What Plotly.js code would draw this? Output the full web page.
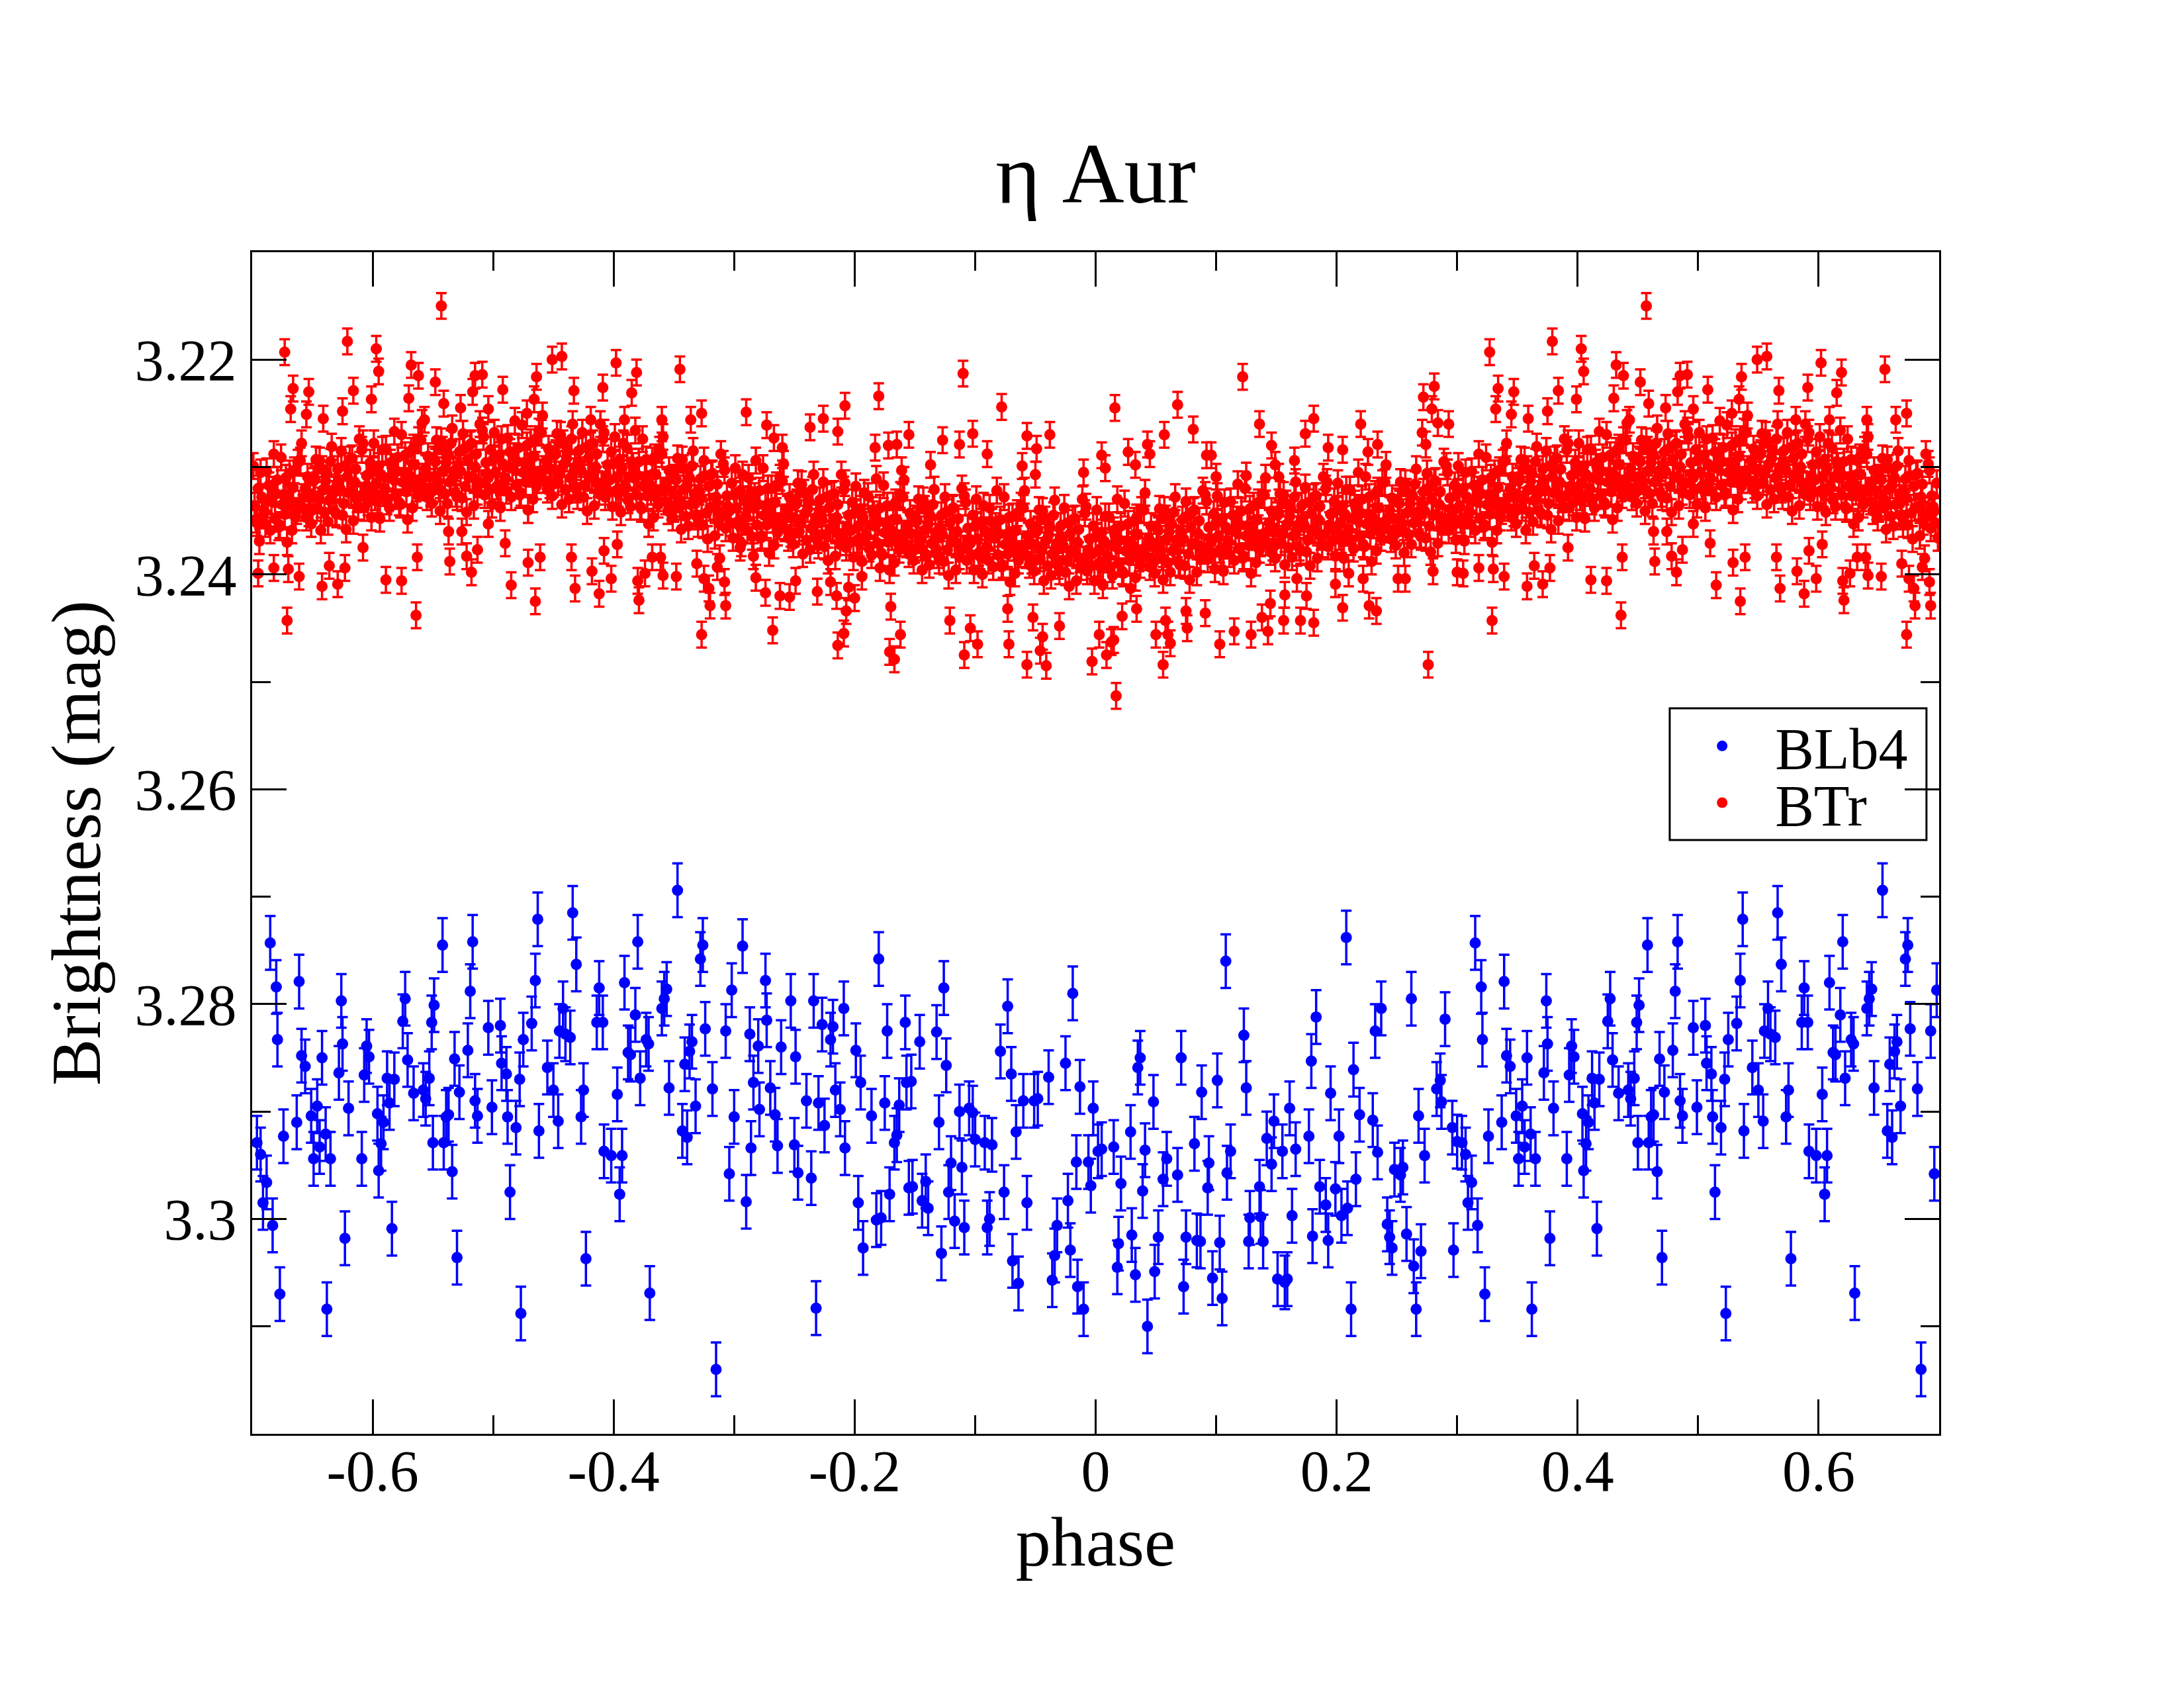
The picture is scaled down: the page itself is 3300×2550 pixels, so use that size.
<!DOCTYPE html>
<html>
<head>
<meta charset="utf-8">
<script src="https://cdn.plot.ly/plotly-3.0.1.min.js"></script>
<style>body{margin:0;background:#fff}</style>
</head>
<body>
<div id="chart"></div>
<script>
// BLb4 points, phase in [-0.5, 0.5)
var bluePhase = [
  -0.494,-0.493,-0.489,-0.488,-0.486,-0.481,-0.478,-0.477,-0.475,-0.468,
  -0.465,-0.463,-0.462,-0.455,-0.450,-0.446,-0.445,-0.442,-0.440,-0.436,
  -0.434,-0.431,-0.427,-0.425,-0.423,-0.414,-0.412,-0.409,-0.408,-0.402,
  -0.397,-0.395,-0.393,-0.391,-0.388,-0.386,-0.382,-0.380,-0.378,-0.373,
  -0.371,-0.370,-0.360,-0.358,-0.356,-0.354,-0.347,-0.343,-0.341,-0.339,
  -0.337,-0.335,-0.332,-0.328,-0.326,-0.324,-0.318,-0.315,-0.307,-0.304,
  -0.302,-0.300,-0.293,-0.290,-0.287,-0.286,-0.284,-0.280,-0.279,-0.274,
  -0.273,-0.270,-0.266,-0.264,-0.261,-0.253,-0.250,-0.249,-0.247,-0.240,
  -0.236,-0.234,-0.232,-0.230,-0.227,-0.225,-0.220,-0.218,-0.216,-0.212,
  -0.209,-0.208,-0.199,-0.197,-0.195,-0.193,-0.186,-0.182,-0.180,-0.178,
  -0.175,-0.173,-0.171,-0.167,-0.165,-0.163,-0.158,-0.157,-0.155,
  -0.153,-0.152,-0.146,-0.144,-0.141,-0.139,-0.132,-0.130,-0.128,-0.126,
  -0.124,-0.122,-0.120,-0.117,-0.113,-0.111,-0.109,-0.105,-0.102,-0.100,
  -0.092,-0.090,-0.088,-0.086,-0.079,-0.076,-0.073,-0.070,-0.069,-0.066,
  -0.064,-0.060,-0.057,-0.051,-0.048,-0.039,-0.036,-0.034,-0.032,-0.025,
  -0.023,-0.021,-0.019,-0.016,-0.015,-0.013,-0.010,-0.006,-0.004,-0.002,
  0.002,0.005,0.015,0.018,0.019,0.021,0.029,0.030,0.033,0.035,
  0.037,0.039,0.041,0.043,0.048,0.049,0.052,0.056,0.059,0.068,
  0.071,0.073,0.075,0.082,0.084,0.087,0.088,0.093,0.094,0.097,
  0.101,0.103,0.105,0.108,0.109,0.112,0.123,0.125,0.127,0.128,
  0.136,0.137,0.139,0.142,0.146,0.148,0.151,0.155,0.157,0.159,
  0.161,0.163,0.166,0.177,0.179,0.180,0.183,0.186,
  0.191,0.193,0.195,0.199,0.202,0.204,0.208,0.209,0.212,0.214,
  0.216,0.219,0.230,0.232,0.234,0.237,0.242,0.244,0.246,0.248,
  0.253,0.255,0.258,0.262,0.264,0.266,0.268,0.270,0.273,0.283,
  0.286,0.287,0.290,0.296,0.297,0.300,0.304,0.307,0.309,0.312,
  0.315,0.317,0.320,0.321,0.323,0.326,0.337,0.339,0.341,0.344,
  0.349,0.351,0.354,0.356,0.358,0.361,0.362,0.365,0.372,0.374,
  0.375,0.377,0.380,0.391,0.393,0.395,0.397,0.404,0.405,0.407,
  0.409,0.412,0.414,0.416,0.418,0.425,0.427,0.429,0.434,0.442,
  0.444,0.447,0.449,0.450,0.451,0.458,0.459,0.461,0.463,0.466,
  0.468,0.470,0.472,0.479,0.481,0.483,0.485,0.487,0.496,0.499
];
var blueMag = [
  3.2820,3.2855,3.2865,3.2905,3.2975,3.2915,3.2870,3.3088,3.2833,3.2818,
  3.2778,3.2721,3.2918,3.2859,3.2880,3.2909,3.2825,3.2804,3.2828,3.2831,
  3.2715,3.2763,3.2905,3.2880,3.3037,3.2817,3.2785,3.2817,3.2937,3.2941,
  3.2884,3.2977,3.2941,3.2780,3.2845,3.2847,3.2810,3.2742,3.2869,3.2833,
  3.2837,3.3069,3.2804,3.2795,3.2786,3.2878,3.2694,3.2918,3.2856,3.2924,
  3.2844,3.2835,3.2895,3.2758,3.2745,3.2823,3.2879,3.3140,3.2825,3.2958,
  3.2787,3.2905,3.2746,3.2984,3.2828,3.2934,3.2873,3.2839,3.2898,3.2778,
  3.2815,3.2878,3.2903,3.2932,3.2840,3.2797,3.2931,3.2849,3.2957,3.2890,
  3.2962,3.2797,3.3083,3.2892,3.2819,3.2913,3.2833,3.2821,3.2880,3.2898,
  3.2804,3.2934,3.2843,3.2985,3.2873,3.3027,3.2904,3.3001,3.2758,3.2999,
  3.2892,3.2825,3.2977,3.2929,3.2922,3.2894,3.2817,3.2873,3.2971,
  3.2872,3.2970,3.2835,3.2983,3.2965,3.2990,3.2826,3.2910,3.3032,3.2785,
  3.2857,3.2975,3.2948,3.3002,3.2900,3.2952,3.3008,3.2897,3.2901,3.2926,
  3.2929,3.3008,3.3000,3.2931,3.2844,3.2975,3.2802,3.2865,3.3039,3.2919,
  3.3060,3.2890,3.2985,3.2890,3.2888,3.2868,3.3057,3.3034,3.3006,3.2855,
  3.2983,3.3029,3.2790,3.2947,3.3063,3.2877,3.3084,3.2947,3.2969,3.2897,
  3.2937,3.2935,3.2933,3.3045,3.3023,3.2967,3.2919,3.3015,3.3052,3.2859,
  3.2850,3.2974,3.2936,3.3100,3.2891,3.3049,3.3017,3.2963,3.2944,3.2959,
  3.2850,3.3063,3.3017,3.2930,3.3020,3.3021,3.2882,3.2971,3.2948,3.3055,
  3.2871,3.3022,3.3074,3.2760,3.2957,3.2937,3.2829,3.2878,3.3021,3.2999,
  3.2970,3.2998,3.3021,3.2925,3.2949,3.2909,3.3056,3.2937,3.3059,3.3056,
  3.2897,3.2997,3.2935,3.2923,3.2853,3.3016,3.2812,3.2970,
  3.2987,3.3020,3.2883,3.2972,3.2923,3.2997,3.2738,3.2990,3.3084,3.2861,
  3.2963,3.2903,3.2908,3.2825,3.2938,3.2804,3.3005,3.3017,3.3027,3.2954,
  3.2959,3.2952,3.3014,3.2795,3.3044,3.3084,3.2904,3.3030,3.2941,3.2879,
  3.2871,3.2891,3.2814,3.2915,3.3029,3.2928,3.2929,3.2940,3.2985,3.2966,
  3.2743,3.3006,3.2784,3.2833,3.3070,3.2923,3.2910,3.2779,3.2848,3.2858,
  3.2904,3.2944,3.2895,3.2933,3.2850,3.2921,3.3084,3.2944,3.2864,3.2797,
  3.2837,3.3018,3.2897,3.2944,3.2866,3.2839,3.2849,3.2902,3.2955,3.2930,
  3.2910,3.2869,3.2892,3.3009,3.2870,3.2816,3.2795,3.2852,3.2883,3.2880,
  3.2888,3.2869,3.2817,3.2929,3.2801,3.2745,3.2929,3.2905,3.2903,3.2956,
  3.2851,3.3036,3.2882,3.2843,3.2788,3.2742,3.2890,3.2904,3.2822,3.2896
];

// BTr points, dense band (read per 0.01 of phase)
var redPhase = [
  -0.499,-0.498,-0.496,-0.495,-0.494,-0.492,-0.491,
  -0.490,-0.488,-0.487,-0.485,-0.483,-0.482,-0.481,
  -0.479,-0.477,-0.476,-0.475,-0.474,-0.473,-0.471,
  -0.470,-0.469,-0.467,-0.466,-0.464,-0.462,-0.461,
  -0.459,-0.458,-0.456,-0.455,-0.454,-0.452,-0.451,
  -0.450,-0.448,-0.447,-0.445,-0.443,-0.442,-0.441,
  -0.439,-0.437,-0.436,-0.435,-0.434,-0.433,-0.431,
  -0.430,-0.429,-0.427,-0.426,-0.424,-0.422,-0.421,
  -0.419,-0.418,-0.416,-0.415,-0.414,-0.412,-0.411,
  -0.410,-0.408,-0.407,-0.405,-0.403,-0.402,-0.401,
  -0.399,-0.397,-0.396,-0.395,-0.394,-0.393,-0.391,
  -0.390,-0.389,-0.387,-0.386,-0.384,-0.382,-0.381,
  -0.379,-0.378,-0.376,-0.375,-0.374,-0.372,-0.371,
  -0.370,-0.368,-0.367,-0.365,-0.363,-0.362,-0.361,
  -0.359,-0.357,-0.356,-0.355,-0.354,-0.353,-0.351,
  -0.350,-0.349,-0.347,-0.346,-0.344,-0.342,-0.341,
  -0.339,-0.338,-0.336,-0.335,-0.334,-0.332,-0.331,
  -0.330,-0.328,-0.327,-0.325,-0.323,-0.322,-0.321,
  -0.319,-0.317,-0.316,-0.315,-0.314,-0.313,-0.311,
  -0.310,-0.309,-0.307,-0.306,-0.304,-0.302,-0.301,
  -0.299,-0.298,-0.296,-0.295,-0.294,-0.292,-0.291,
  -0.290,-0.288,-0.287,-0.285,-0.283,-0.282,-0.281,
  -0.279,-0.277,-0.276,-0.275,-0.274,-0.273,-0.271,
  -0.270,-0.269,-0.267,-0.266,-0.264,-0.262,-0.261,
  -0.259,-0.258,-0.256,-0.255,-0.254,-0.252,-0.251,
  -0.250,-0.248,-0.247,-0.245,-0.243,-0.242,-0.241,
  -0.239,-0.237,-0.236,-0.235,-0.234,-0.233,-0.231,
  -0.230,-0.229,-0.227,-0.226,-0.224,-0.222,-0.221,
  -0.219,-0.218,-0.216,-0.215,-0.214,-0.212,-0.211,
  -0.210,-0.208,-0.207,-0.205,-0.203,-0.202,-0.201,
  -0.199,-0.197,-0.196,-0.195,-0.194,-0.193,-0.191,
  -0.190,-0.189,-0.187,-0.186,-0.184,-0.182,-0.181,
  -0.179,-0.178,-0.176,-0.175,-0.174,-0.172,-0.171,
  -0.170,-0.168,-0.167,-0.165,-0.163,-0.162,-0.161,
  -0.159,-0.157,-0.156,-0.155,-0.154,-0.153,-0.151,
  -0.150,-0.149,-0.147,-0.146,-0.144,-0.142,-0.141,
  -0.139,-0.138,-0.136,-0.135,-0.134,-0.132,-0.131,
  -0.130,-0.128,-0.127,-0.125,-0.123,-0.122,-0.121,
  -0.119,-0.117,-0.116,-0.115,-0.114,-0.113,-0.111,
  -0.110,-0.109,-0.107,-0.106,-0.104,-0.102,-0.101,
  -0.099,-0.098,-0.096,-0.095,-0.094,-0.092,-0.091,
  -0.090,-0.088,-0.087,-0.085,-0.083,-0.082,-0.081,
  -0.079,-0.077,-0.076,-0.075,-0.074,-0.073,-0.071,
  -0.070,-0.069,-0.067,-0.066,-0.064,-0.062,-0.061,
  -0.059,-0.058,-0.056,-0.055,-0.054,-0.052,-0.051,
  -0.050,-0.048,-0.047,-0.045,-0.043,-0.042,-0.041,
  -0.039,-0.037,-0.036,-0.035,-0.034,-0.033,-0.031,
  -0.030,-0.029,-0.027,-0.026,-0.024,-0.022,-0.021,
  -0.019,-0.018,-0.016,-0.015,-0.014,-0.012,-0.011,
  -0.010,-0.008,-0.007,-0.005,-0.003,-0.002,-0.001,
  0.001,0.003,0.004,0.005,0.006,0.007,0.009,
  0.010,0.011,0.013,0.014,0.016,0.018,0.019,
  0.021,0.022,0.024,0.025,0.026,0.028,0.029,
  0.030,0.032,0.033,0.035,0.037,0.038,0.039,
  0.041,0.043,0.044,0.045,0.046,0.047,0.049,
  0.050,0.051,0.053,0.054,0.056,0.058,0.059,
  0.061,0.062,0.064,0.065,0.066,0.068,0.069,
  0.070,0.072,0.073,0.075,0.077,0.078,0.079,
  0.081,0.083,0.084,0.085,0.086,0.087,0.089,
  0.090,0.091,0.093,0.094,0.096,0.098,0.099,
  0.101,0.102,0.104,0.105,0.106,0.108,0.109,
  0.110,0.112,0.113,0.115,0.117,0.118,0.119,
  0.121,0.123,0.124,0.125,0.126,0.127,0.129,
  0.130,0.131,0.133,0.134,0.136,0.138,0.139,
  0.141,0.142,0.144,0.145,0.146,0.148,0.149,
  0.150,0.152,0.153,0.155,0.157,0.158,0.159,
  0.161,0.163,0.164,0.165,0.166,0.167,0.169,
  0.170,0.171,0.173,0.174,0.176,0.178,0.179,
  0.181,0.182,0.184,0.185,0.186,0.188,0.189,
  0.190,0.192,0.193,0.195,0.197,0.198,0.199,
  0.201,0.203,0.204,0.205,0.206,0.207,0.209,
  0.210,0.211,0.213,0.214,0.216,0.218,0.219,
  0.221,0.222,0.224,0.225,0.226,0.228,0.229,
  0.230,0.232,0.233,0.235,0.237,0.238,0.239,
  0.241,0.243,0.244,0.245,0.246,0.247,0.249,
  0.250,0.251,0.253,0.254,0.256,0.258,0.259,
  0.261,0.262,0.264,0.265,0.266,0.268,0.269,
  0.270,0.272,0.273,0.275,0.277,0.278,0.279,
  0.281,0.283,0.284,0.285,0.286,0.287,0.289,
  0.290,0.291,0.293,0.294,0.296,0.298,0.299,
  0.301,0.302,0.304,0.305,0.306,0.308,0.309,
  0.310,0.312,0.313,0.315,0.317,0.318,0.319,
  0.321,0.323,0.324,0.325,0.326,0.327,0.329,
  0.330,0.331,0.333,0.334,0.336,0.338,0.339,
  0.341,0.342,0.344,0.345,0.346,0.348,0.349,
  0.350,0.352,0.353,0.355,0.357,0.358,0.359,
  0.361,0.363,0.364,0.365,0.366,0.367,0.369,
  0.370,0.371,0.373,0.374,0.376,0.378,0.379,
  0.381,0.382,0.384,0.385,0.386,0.388,0.389,
  0.390,0.392,0.393,0.395,0.397,0.398,0.399,
  0.401,0.403,0.404,0.405,0.406,0.407,0.409,
  0.410,0.411,0.413,0.414,0.416,0.418,0.419,
  0.421,0.422,0.424,0.425,0.426,0.428,0.429,
  0.430,0.432,0.433,0.435,0.437,0.438,0.439,
  0.441,0.443,0.444,0.445,0.446,0.447,0.449,
  0.450,0.451,0.453,0.454,0.456,0.458,0.459,
  0.461,0.462,0.464,0.465,0.466,0.468,0.469,
  0.470,0.472,0.473,0.475,0.477,0.478,0.479,
  0.481,0.483,0.484,0.485,0.486,0.487,0.489,
  0.490,0.491,0.493,0.494,0.496,0.498,0.499
];
var redMag = [
  3.2268,3.2305,3.2321,3.2289,3.2338,3.2297,3.2314,
  3.2310,3.2273,3.2300,3.2328,3.2290,3.2257,3.2317,
  3.2282,3.2324,3.2261,3.2305,3.2296,3.2314,3.2340,
  3.2299,3.2277,3.2330,3.2290,3.2318,3.2267,3.2305,
  3.2252,3.2312,3.2294,3.2321,3.2283,3.2302,3.2327,
  3.2316,3.2287,3.2269,3.2307,3.2335,3.2278,3.2297,
  3.2292,3.2330,3.2310,3.2274,3.2260,3.2304,3.2321,
  3.2327,3.2285,3.2303,3.2268,3.2317,3.2341,3.2292,
  3.2279,3.2309,3.2336,3.2300,3.2288,3.2323,3.2260,
  3.2317,3.2268,3.2328,3.2298,3.2312,3.2286,3.2337,
  3.2272,3.2309,3.2325,3.2293,3.2342,3.2301,3.2318,
  3.2319,3.2282,3.2309,3.2337,3.2299,3.2266,3.2326,
  3.2295,3.2337,3.2274,3.2318,3.2309,3.2327,3.2353,
  3.2316,3.2294,3.2347,3.2307,3.2335,3.2284,3.2322,
  3.2272,3.2332,3.2314,3.2341,3.2303,3.2322,3.2347,
  3.2339,3.2310,3.2292,3.2330,3.2358,3.2301,3.2320,
  3.2317,3.2355,3.2335,3.2299,3.2285,3.2329,3.2346,
  3.2353,3.2311,3.2329,3.2294,3.2343,3.2367,3.2318,
  3.2307,3.2337,3.2364,3.2328,3.2316,3.2351,3.2288,
  3.2346,3.2297,3.2357,3.2327,3.2341,3.2315,3.2366,
  3.2301,3.2338,3.2354,3.2322,3.2371,3.2330,3.2347,
  3.2347,3.2310,3.2337,3.2365,3.2327,3.2294,3.2354,
  3.2322,3.2364,3.2301,3.2345,3.2336,3.2354,3.2380,
  3.2342,3.2320,3.2373,3.2333,3.2361,3.2310,3.2348,
  3.2297,3.2357,3.2339,3.2366,3.2328,3.2347,3.2372,
  3.2362,3.2333,3.2315,3.2353,3.2381,3.2324,3.2343,
  3.2339,3.2377,3.2357,3.2321,3.2307,3.2351,3.2368,
  3.2373,3.2331,3.2349,3.2314,3.2363,3.2387,3.2338,
  3.2326,3.2356,3.2383,3.2347,3.2335,3.2370,3.2307,
  3.2364,3.2315,3.2375,3.2345,3.2359,3.2333,3.2384,
  3.2318,3.2355,3.2371,3.2339,3.2388,3.2347,3.2364,
  3.2364,3.2327,3.2354,3.2382,3.2344,3.2311,3.2371,
  3.2338,3.2380,3.2317,3.2361,3.2352,3.2370,3.2396,
  3.2358,3.2336,3.2389,3.2349,3.2377,3.2326,3.2364,
  3.2312,3.2372,3.2354,3.2381,3.2343,3.2362,3.2387,
  3.2377,3.2348,3.2330,3.2368,3.2396,3.2339,3.2358,
  3.2353,3.2391,3.2371,3.2335,3.2321,3.2365,3.2382,
  3.2387,3.2345,3.2363,3.2328,3.2377,3.2401,3.2352,
  3.2339,3.2369,3.2396,3.2360,3.2348,3.2383,3.2320,
  3.2376,3.2327,3.2387,3.2357,3.2371,3.2345,3.2396,
  3.2330,3.2367,3.2383,3.2351,3.2400,3.2359,3.2376,
  3.2375,3.2338,3.2365,3.2393,3.2355,3.2322,3.2382,
  3.2349,3.2391,3.2328,3.2372,3.2363,3.2381,3.2407,
  3.2368,3.2346,3.2399,3.2359,3.2387,3.2336,3.2374,
  3.2322,3.2382,3.2364,3.2391,3.2353,3.2372,3.2397,
  3.2387,3.2358,3.2340,3.2378,3.2406,3.2349,3.2368,
  3.2363,3.2401,3.2381,3.2345,3.2331,3.2375,3.2392,
  3.2397,3.2355,3.2373,3.2338,3.2387,3.2411,3.2362,
  3.2349,3.2379,3.2406,3.2370,3.2358,3.2393,3.2330,
  3.2386,3.2337,3.2397,3.2367,3.2381,3.2355,3.2406,
  3.2340,3.2377,3.2393,3.2361,3.2410,3.2369,3.2386,
  3.2383,3.2346,3.2373,3.2401,3.2363,3.2330,3.2390,
  3.2355,3.2397,3.2334,3.2378,3.2369,3.2387,3.2413,
  3.2372,3.2350,3.2403,3.2363,3.2391,3.2340,3.2378,
  3.2324,3.2384,3.2366,3.2393,3.2355,3.2374,3.2399,
  3.2386,3.2357,3.2339,3.2377,3.2405,3.2348,3.2367,
  3.2360,3.2398,3.2378,3.2342,3.2328,3.2372,3.2389,
  3.2391,3.2349,3.2367,3.2332,3.2381,3.2405,3.2356,
  3.2341,3.2371,3.2398,3.2362,3.2350,3.2385,3.2322,
  3.2375,3.2326,3.2386,3.2356,3.2370,3.2344,3.2395,
  3.2327,3.2364,3.2380,3.2348,3.2397,3.2356,3.2373,
  3.2369,3.2332,3.2359,3.2387,3.2349,3.2316,3.2376,
  3.2341,3.2383,3.2320,3.2364,3.2355,3.2373,3.2399,
  3.2358,3.2336,3.2389,3.2349,3.2377,3.2326,3.2364,
  3.2310,3.2370,3.2352,3.2379,3.2341,3.2360,3.2385,
  3.2372,3.2343,3.2325,3.2363,3.2391,3.2334,3.2353,
  3.2346,3.2384,3.2364,3.2328,3.2314,3.2358,3.2375,
  3.2378,3.2336,3.2354,3.2319,3.2368,3.2392,3.2343,
  3.2328,3.2358,3.2385,3.2349,3.2337,3.2372,3.2309,
  3.2363,3.2314,3.2374,3.2344,3.2358,3.2332,3.2383,
  3.2315,3.2352,3.2368,3.2336,3.2385,3.2344,3.2361,
  3.2358,3.2321,3.2348,3.2376,3.2338,3.2305,3.2365,
  3.2330,3.2372,3.2309,3.2353,3.2344,3.2362,3.2388,
  3.2347,3.2325,3.2378,3.2338,3.2366,3.2315,3.2353,
  3.2298,3.2358,3.2340,3.2367,3.2329,3.2348,3.2373,
  3.2361,3.2332,3.2314,3.2352,3.2380,3.2323,3.2342,
  3.2334,3.2372,3.2352,3.2316,3.2302,3.2346,3.2363,
  3.2365,3.2323,3.2341,3.2306,3.2355,3.2379,3.2330,
  3.2314,3.2344,3.2371,3.2335,3.2323,3.2358,3.2295,
  3.2348,3.2299,3.2359,3.2329,3.2343,3.2317,3.2368,
  3.2299,3.2336,3.2352,3.2320,3.2369,3.2328,3.2345,
  3.2341,3.2304,3.2331,3.2359,3.2321,3.2288,3.2348,
  3.2312,3.2354,3.2291,3.2335,3.2326,3.2344,3.2370,
  3.2328,3.2306,3.2359,3.2319,3.2347,3.2296,3.2334,
  3.2278,3.2338,3.2320,3.2347,3.2309,3.2328,3.2353,
  3.2340,3.2311,3.2293,3.2331,3.2359,3.2302,3.2321,
  3.2313,3.2351,3.2331,3.2295,3.2281,3.2325,3.2342,
  3.2344,3.2302,3.2320,3.2285,3.2334,3.2358,3.2309,
  3.2293,3.2323,3.2350,3.2314,3.2302,3.2337,3.2274,
  3.2327,3.2278,3.2338,3.2308,3.2322,3.2296,3.2347,
  3.2278,3.2315,3.2331,3.2299,3.2348,3.2307,3.2324,
  3.2320,3.2283,3.2310,3.2338,3.2300,3.2267,3.2327,
  3.2291,3.2333,3.2270,3.2314,3.2305,3.2323,3.2349,
  3.2307,3.2285,3.2338,3.2298,3.2326,3.2275,3.2313,
  3.2259,3.2319,3.2301,3.2328,3.2290,3.2309,3.2334,
  3.2322,3.2293,3.2275,3.2313,3.2341,3.2284,3.2303,
  3.2296,3.2334,3.2314,3.2278,3.2264,3.2308,3.2325,
  3.2328,3.2286,3.2304,3.2269,3.2318,3.2342,3.2293,
  3.2279,3.2309,3.2336,3.2300,3.2288,3.2323,3.2260,
  3.2315,3.2266,3.2326,3.2296,3.2310,3.2284,3.2335
];

// more BTr points packed near the middle of the band
var redPhase2 = [
  -0.500,-0.497,-0.493, -0.489,-0.486,-0.484, -0.480,-0.478,-0.472, -0.468,-0.465,-0.463,
  -0.460,-0.457,-0.453, -0.449,-0.446,-0.444, -0.440,-0.438,-0.432, -0.428,-0.425,-0.423,
  -0.420,-0.417,-0.413, -0.409,-0.406,-0.404, -0.400,-0.398,-0.392, -0.388,-0.385,-0.383,
  -0.380,-0.377,-0.373, -0.369,-0.366,-0.364, -0.360,-0.358,-0.352, -0.348,-0.345,-0.343,
  -0.340,-0.337,-0.333, -0.329,-0.326,-0.324, -0.320,-0.318,-0.312, -0.308,-0.305,-0.303,
  -0.300,-0.297,-0.293, -0.289,-0.286,-0.284, -0.280,-0.278,-0.272, -0.268,-0.265,-0.263,
  -0.260,-0.257,-0.253, -0.249,-0.246,-0.244, -0.240,-0.238,-0.232, -0.228,-0.225,-0.223,
  -0.220,-0.217,-0.213, -0.209,-0.206,-0.204, -0.200,-0.198,-0.192, -0.188,-0.185,-0.183,
  -0.180,-0.177,-0.173, -0.169,-0.166,-0.164, -0.160,-0.158,-0.152, -0.148,-0.145,-0.143,
  -0.140,-0.137,-0.133, -0.129,-0.126,-0.124, -0.120,-0.118,-0.112, -0.108,-0.105,-0.103,
  -0.100,-0.097,-0.093, -0.089,-0.086,-0.084, -0.080,-0.078,-0.072, -0.068,-0.065,-0.063,
  -0.060,-0.057,-0.053, -0.049,-0.046,-0.044, -0.040,-0.038,-0.032, -0.028,-0.025,-0.023,
  -0.020,-0.017,-0.013, -0.009,-0.006,-0.004, 0.000,0.002,0.008, 0.012,0.015,0.017,
  0.020,0.023,0.027, 0.031,0.034,0.036, 0.040,0.042,0.048, 0.052,0.055,0.057,
  0.060,0.063,0.067, 0.071,0.074,0.076, 0.080,0.082,0.088, 0.092,0.095,0.097,
  0.100,0.103,0.107, 0.111,0.114,0.116, 0.120,0.122,0.128, 0.132,0.135,0.137,
  0.140,0.143,0.147, 0.151,0.154,0.156, 0.160,0.162,0.168, 0.172,0.175,0.177,
  0.180,0.183,0.187, 0.191,0.194,0.196, 0.200,0.202,0.208, 0.212,0.215,0.217,
  0.220,0.223,0.227, 0.231,0.234,0.236, 0.240,0.242,0.248, 0.252,0.255,0.257,
  0.260,0.263,0.267, 0.271,0.274,0.276, 0.280,0.282,0.288, 0.292,0.295,0.297,
  0.300,0.303,0.307, 0.311,0.314,0.316, 0.320,0.322,0.328, 0.332,0.335,0.337,
  0.340,0.343,0.347, 0.351,0.354,0.356, 0.360,0.362,0.368, 0.372,0.375,0.377,
  0.380,0.383,0.387, 0.391,0.394,0.396, 0.400,0.402,0.408, 0.412,0.415,0.417,
  0.420,0.423,0.427, 0.431,0.434,0.436, 0.440,0.442,0.448, 0.452,0.455,0.457,
  0.460,0.463,0.467, 0.471,0.474,0.476, 0.480,0.482,0.488, 0.492,0.495,0.497
];
var redMag2 = [
  3.2293,3.2318,3.2274, 3.2322,3.2286,3.2301, 3.2295,3.2326,3.2280, 3.2306,3.2274,3.2312,
  3.2268,3.2302,3.2317, 3.2289,3.2314,3.2270, 3.2321,3.2285,3.2300, 3.2297,3.2328,3.2282,
  3.2310,3.2278,3.2316, 3.2274,3.2308,3.2323, 3.2297,3.2322,3.2278, 3.2331,3.2295,3.2310,
  3.2308,3.2339,3.2293, 3.2323,3.2291,3.2329, 3.2288,3.2322,3.2337, 3.2312,3.2337,3.2293,
  3.2346,3.2310,3.2325, 3.2323,3.2354,3.2308, 3.2338,3.2306,3.2344, 3.2303,3.2337,3.2352,
  3.2326,3.2351,3.2307, 3.2359,3.2323,3.2338, 3.2335,3.2366,3.2320, 3.2349,3.2317,3.2355,
  3.2313,3.2347,3.2362, 3.2335,3.2360,3.2316, 3.2368,3.2332,3.2347, 3.2343,3.2374,3.2328,
  3.2357,3.2325,3.2363, 3.2321,3.2355,3.2370, 3.2343,3.2368,3.2324, 3.2376,3.2340,3.2355,
  3.2351,3.2382,3.2336, 3.2365,3.2333,3.2371, 3.2328,3.2362,3.2377, 3.2350,3.2375,3.2331,
  3.2382,3.2346,3.2361, 3.2357,3.2388,3.2342, 3.2370,3.2338,3.2376, 3.2333,3.2367,3.2382,
  3.2355,3.2380,3.2336, 3.2387,3.2351,3.2366, 3.2362,3.2393,3.2347, 3.2375,3.2343,3.2381,
  3.2338,3.2372,3.2387, 3.2360,3.2385,3.2341, 3.2392,3.2356,3.2371, 3.2367,3.2398,3.2352,
  3.2380,3.2348,3.2386, 3.2343,3.2377,3.2392, 3.2365,3.2390,3.2346, 3.2395,3.2359,3.2374,
  3.2368,3.2399,3.2353, 3.2379,3.2347,3.2385, 3.2340,3.2374,3.2389, 3.2359,3.2384,3.2340,
  3.2389,3.2353,3.2368, 3.2361,3.2392,3.2346, 3.2372,3.2340,3.2378, 3.2332,3.2366,3.2381,
  3.2352,3.2377,3.2333, 3.2381,3.2345,3.2360, 3.2354,3.2385,3.2339, 3.2365,3.2333,3.2371,
  3.2326,3.2360,3.2375, 3.2345,3.2370,3.2326, 3.2375,3.2339,3.2354, 3.2348,3.2379,3.2333,
  3.2359,3.2327,3.2365, 3.2320,3.2354,3.2369, 3.2340,3.2365,3.2321, 3.2370,3.2334,3.2349,
  3.2343,3.2374,3.2328, 3.2354,3.2322,3.2360, 3.2314,3.2348,3.2363, 3.2334,3.2359,3.2315,
  3.2363,3.2327,3.2342, 3.2335,3.2366,3.2320, 3.2345,3.2313,3.2351, 3.2305,3.2339,3.2354,
  3.2324,3.2349,3.2305, 3.2353,3.2317,3.2332, 3.2325,3.2356,3.2310, 3.2335,3.2303,3.2341,
  3.2294,3.2328,3.2343, 3.2313,3.2338,3.2294, 3.2342,3.2306,3.2321, 3.2314,3.2345,3.2299,
  3.2324,3.2292,3.2330, 3.2284,3.2318,3.2333, 3.2303,3.2328,3.2284, 3.2332,3.2296,3.2311,
  3.2304,3.2335,3.2289, 3.2314,3.2282,3.2320, 3.2275,3.2309,3.2324, 3.2295,3.2320,3.2276,
  3.2325,3.2289,3.2304, 3.2298,3.2329,3.2283, 3.2310,3.2278,3.2316, 3.2272,3.2306,3.2321
];

// BTr points lying outside the dense band
var redOutPhase = [
  -0.492,-0.472,-0.466,-0.464,-0.451,-0.443,-0.433,-0.419,-0.409,-0.398,
  -0.391,-0.385,-0.381,-0.360,-0.345,-0.336,-0.327,-0.290,-0.273,-0.267,
  -0.260,-0.237,-0.226,-0.214,-0.208,-0.183,-0.180,-0.172,
  -0.490,-0.485,-0.471,-0.465,-0.461,-0.435,-0.432,-0.418,-0.412,-0.408,
  -0.402,-0.397,-0.380,-0.379,-0.374,-0.368,-0.361,-0.359,-0.348,-0.331,
  -0.327,-0.325,-0.321,-0.320,-0.314,-0.312,-0.308,-0.307,-0.295,-0.284,
  -0.282,-0.274,-0.268,-0.262,-0.254,-0.249,-0.231,-0.220,-0.215,-0.214,
  -0.209,-0.207,-0.205,-0.200,-0.194,-0.179,-0.171,-0.170,
  -0.165,-0.161,-0.155,-0.137,-0.127,-0.113,-0.110,-0.102,-0.090,-0.078,
  -0.061,-0.057,-0.050,-0.049,-0.038,-0.010,0.005,0.008,0.016,0.027,
  0.033,0.043,0.045,0.057,0.068,0.081,0.092,0.096,0.100,0.122,
  0.125,0.136,0.146,0.149,0.152,0.165,
  -0.167,-0.162,-0.121,-0.109,-0.104,-0.098,-0.073,-0.072,-0.057,-0.052,
  -0.046,-0.044,-0.041,-0.030,-0.003,0.003,0.009,0.013,0.017,0.015,
  0.022,0.034,0.050,0.056,0.058,0.060,0.062,0.075,0.076,0.091,
  0.103,0.115,0.129,0.138,0.143,0.145,0.156,0.157,
  0.174,0.181,0.193,0.205,0.220,0.226,0.234,0.271,0.272,0.274,
  0.279,0.281,0.284,0.293,0.327,0.332,0.334,0.345,0.347,0.359,
  0.375,0.379,0.384,0.399,0.403,0.405,0.430,0.432,0.438,0.443,
  0.452,0.457,0.459,0.473,0.483,0.485,0.491,0.496,
  0.167,0.170,0.175,0.181,0.199,0.205,0.210,0.222,0.227,0.233,
  0.251,0.257,0.276,0.280,0.300,0.305,0.318,0.329,0.330,0.339,
  0.358,0.364,0.371,0.377,0.392,0.411,0.424,0.436,0.437,0.463,
  0.464,0.474,0.478,0.482,0.487,0.496
];
var redOutMag = [
  3.2228,3.2250,3.2237,3.2216,3.2200,3.2197,3.2229,3.2256,3.2226,3.2203,
  3.2256,3.2231,3.2212,3.2256,3.2209,3.2256,3.2250,3.2249,3.2261,3.2273,
  3.2282,3.2263,3.2255,3.2267,3.2243,3.2282,3.2234,3.2280,
  3.2371,3.2410,3.2389,3.2425,3.2384,3.2384,3.2413,3.2397,3.2418,3.2378,
  3.2404,3.2372,3.2406,3.2424,3.2399,3.2384,3.2384,3.2401,3.2402,3.2390,
  3.2456,3.2404,3.2413,3.2429,3.2393,3.2385,3.2407,3.2429,3.2375,3.2383,
  3.2403,3.2417,3.2452,3.2420,3.2421,3.2406,3.2416,3.2407,3.2420,3.2466,
  3.2455,3.2434,3.2412,3.2422,3.2402,3.2394,3.2472,3.2430,
  3.2279,3.2303,3.2270,3.2298,3.2275,3.2279,3.2213,3.2269,3.2288,3.2244,
  3.2299,3.2271,3.2307,3.2283,3.2270,3.2305,3.2289,3.2301,3.2245,3.2286,
  3.2298,3.2279,3.2288,3.2270,3.2242,3.2265,3.2289,3.2289,3.2309,3.2216,
  3.2308,3.2260,3.2280,3.2298,3.2309,3.2294,
  3.2479,3.2456,3.2443,3.2475,3.2450,3.2465,3.2432,3.2465,3.2484,3.2440,
  3.2471,3.2458,3.2485,3.2448,3.2481,3.2456,3.2475,3.2463,3.2513,3.2461,
  3.2439,3.2432,3.2456,3.2484,3.2443,3.2456,3.2464,3.2434,3.2450,3.2436,
  3.2465,3.2453,3.2456,3.2440,3.2453,3.2427,3.2443,3.2419,
  3.2269,3.2255,3.2282,3.2284,3.2260,3.2286,3.2279,3.2268,3.2235,3.2279,
  3.2246,3.2225,3.2259,3.2260,3.2193,3.2246,3.2227,3.2251,3.2230,3.2255,
  3.2248,3.2183,3.2229,3.2237,3.2190,3.2211,3.2236,3.2205,3.2215,3.2256,
  3.2221,3.2150,3.2241,3.2245,3.2230,3.2215,3.2214,3.2246,
  3.2404,3.2443,3.2420,3.2445,3.2409,3.2431,3.2399,3.2404,3.2429,3.2434,
  3.2404,3.2404,3.2484,3.2397,3.2398,3.2399,3.2394,3.2443,3.2395,3.2402,
  3.2411,3.2392,3.2409,3.2394,3.2375,3.2405,3.2406,3.2438,3.2384,3.2360,
  3.2388,3.2360,3.2383,3.2398,3.2377,3.2353
];

var blueErr = 0.0025;
var redErr = 0.0012;

var xTickVals = [-0.6, -0.4, -0.2, 0, 0.2, 0.4, 0.6];
var xTickText = ['-0.6', '-0.4', '-0.2', '0', '0.2', '0.4', '0.6'];
var yTickVals = [3.22, 3.24, 3.26, 3.28, 3.3];
var yTickText = ['3.22', '3.24', '3.26', '3.28', '3.3'];

// the phase plot repeats: points near the ends are also drawn one cycle away
function unfold(ph, mg) {
  var x = [], y = [];
  for (var i = 0; i < ph.length; i++) {
    x.push(ph[i]); y.push(mg[i]);
    if (ph[i] < -0.3) { x.push(ph[i] + 1); y.push(mg[i]); }
    if (ph[i] > 0.3) { x.push(ph[i] - 1); y.push(mg[i]); }
  }
  return {x: x, y: y};
}

var blue = unfold(bluePhase, blueMag);
var red = unfold(redPhase.concat(redPhase2, redOutPhase), redMag.concat(redMag2, redOutMag));

var serif = 'Liberation Serif, Times New Roman, serif';

var trace1 = {
  x: blue.x, y: blue.y,
  name: 'BLb4',
  type: 'scatter', mode: 'markers',
  legend: 'legend',
  marker: {color: '#0000ff', size: 17},
  error_y: {type: 'constant', value: blueErr, color: '#0000ff', thickness: 3.5, width: 8}
};

var trace2 = {
  x: red.x, y: red.y,
  name: 'BTr',
  type: 'scatter', mode: 'markers',
  legend: 'legend2',
  marker: {color: '#ff0000', size: 17},
  error_y: {type: 'constant', value: redErr, color: '#ff0000', thickness: 3.5, width: 8}
};

var axisCommon = {
  ticks: 'inside', ticklen: 52, tickwidth: 3, tickcolor: 'black',
  showline: true, linewidth: 3, linecolor: 'black', mirror: 'ticks',
  showgrid: false, zeroline: false,
  tickfont: {family: serif, size: 88, color: 'black'}
};

var legendCommon = {
  x: 0.840, xanchor: 'left', yanchor: 'middle',
  bgcolor: 'rgba(0,0,0,0)', borderwidth: 0,
  font: {family: serif, size: 88, color: 'black'},
  itemwidth: 150
};

var layout = {
  width: 3300, height: 2550,
  margin: {l: 381, r: 370, t: 381, b: 384},
  paper_bgcolor: 'white', plot_bgcolor: 'white',
  font: {family: serif, color: 'black'},
  showlegend: true,
  title: {text: 'η Aur', font: {family: serif, size: 130, color: 'black'},
          xref: 'paper', x: 0.5, xanchor: 'center', yref: 'container', y: 0.898, yanchor: 'middle'},
  xaxis: Object.assign({}, axisCommon, {
    range: [-0.7, 0.7],
    tickmode: 'array', tickvals: xTickVals, ticktext: xTickText,
    ticklabelstandoff: -23,
    minor: {tickmode: 'linear', tick0: 0, dtick: 0.1, ticks: 'inside', ticklen: 28, tickwidth: 3, tickcolor: 'black', showgrid: false},
    title: {text: 'phase', font: {family: serif, size: 106, color: 'black'}, standoff: 0}
  }),
  yaxis: Object.assign({}, axisCommon, {
    range: [3.32, 3.21],
    tickmode: 'array', tickvals: yTickVals, ticktext: yTickText,
    ticklabelstandoff: 3,
    minor: {tickmode: 'linear', tick0: 3.21, dtick: 0.01, ticks: 'inside', ticklen: 28, tickwidth: 3, tickcolor: 'black', showgrid: false},
    title: {text: 'Brightness (mag)', font: {family: serif, size: 106, color: 'black'}, standoff: 17}
  }),
  legend: Object.assign({}, legendCommon, {y: 0.582}),
  legend2: Object.assign({}, legendCommon, {y: 0.534}),
  // one frame around both legend rows
  shapes: [{
    type: 'rect', xref: 'paper', yref: 'paper',
    x0: 0.8403, x1: 0.9925, y0: 0.5025, y1: 0.6140,
    line: {color: 'black', width: 3}, fillcolor: 'rgba(0,0,0,0)', layer: 'above'
  }]
};

Plotly.newPlot('chart', [trace1, trace2], layout, {staticPlot: true});
</script>
</body>
</html>
